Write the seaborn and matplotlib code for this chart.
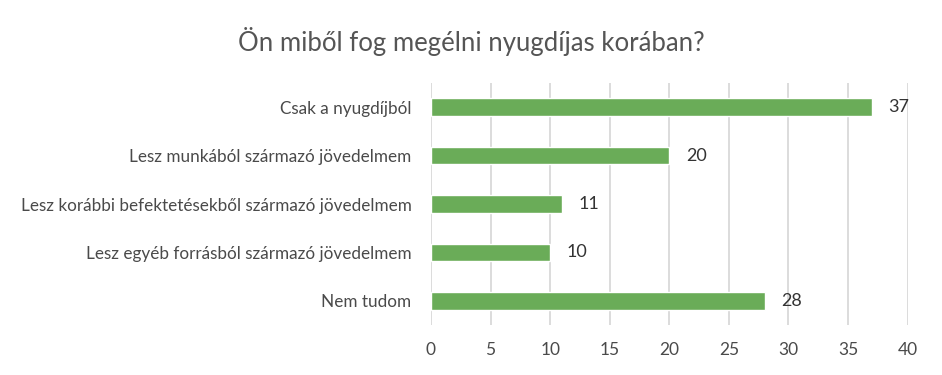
import matplotlib
matplotlib.use("Agg")
import matplotlib.pyplot as plt
import seaborn as sns
import pandas as pd

# data
categories = [
    "Csak a nyugdíjból",
    "Lesz munkából származó jövedelmem",
    "Lesz korábbi befektetésekből származó jövedelmem",
    "Lesz egyéb forrásból származó jövedelmem",
    "Nem tudom",
]
counts = [37, 20, 11, 10, 28]
x_ticks = [0, 5, 10, 15, 20, 25, 30, 35, 40]

title = "Ön miből fog megélni nyugdíjas korában?"
bar_color = "#6aac58"
text_color = "#4a4a4a"

sns.set_style("white")
plt.rcParams["font.family"] = ["Lato", "DejaVu Sans"]

df = pd.DataFrame({"category": categories, "count": counts})

fig = plt.figure(figsize=(9.42, 3.75), dpi=100)
ax = fig.add_axes([0.4575, 0.133, 0.506, 0.646])

sns.barplot(data=df, x="count", y="category", color=bar_color,
            width=0.36, saturation=1, ax=ax, zorder=3)

ax.set_xlim(0, 40)
ax.set_ylim(4.5, -0.5)
ax.set_xticks(x_ticks)
ax.set_xticklabels([str(t) for t in x_ticks])
ax.xaxis.grid(True, color="#d9d9d9", linewidth=1.3, zorder=0)
ax.set_axisbelow(True)
for s in ax.spines.values():
    s.set_visible(False)
ax.tick_params(axis="x", length=0, pad=12, labelsize=12.5, labelcolor=text_color)
ax.tick_params(axis="y", length=0, pad=14, labelsize=12.3, labelcolor=text_color)
ax.set_xlabel("")
ax.set_ylabel("")

for cont in ax.containers:
    ax.bar_label(cont, padding=12, fontsize=13, color="#333333")

fig.text(0.5, 0.89, title, ha="center", va="center", fontsize=18.5, color="#555555")

fig.savefig("out.png", dpi=100)
